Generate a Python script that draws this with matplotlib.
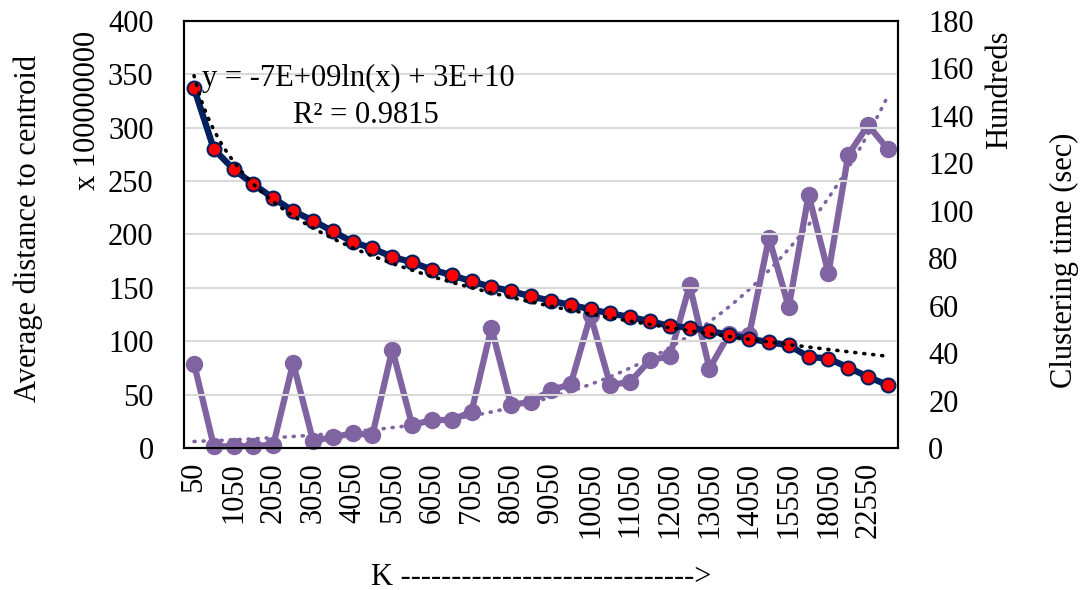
import numpy as np
import matplotlib
matplotlib.use("Agg")
import matplotlib.pyplot as plt

plt.rcParams['font.family'] = ['Liberation Serif', 'DejaVu Serif']

# Number of clusters K
k_values = [50, 550, 1050, 1550, 2050, 2550, 3050, 3550, 4050, 4550,
            5050, 5550, 6050, 6550, 7050, 7550, 8050, 8550, 9050, 9550,
            10050, 10550, 11050, 11550, 12050, 12550, 13050, 13550, 14050,
            14550, 15550, 16550, 18050, 20050, 22550, 25050]

# Average distance to centroid (x 100000000)
avg_distance = [337, 280, 261, 247, 234, 222, 213, 203, 193, 187,
                179, 174, 167, 162, 156, 151, 147, 142, 138, 134,
                130, 126, 122.7, 118.7, 114.3, 112.8, 109.6, 106, 102.5,
                99, 96.3, 85.4, 83.8, 75.4, 66.6, 58.9]

# Clustering time (sec, hundreds)
clustering_time = [35.6, 0.7, 0.7, 0.9, 1.3, 35.9, 3.1, 4.5, 6.2, 5.5,
                   41.5, 9.7, 11.8, 11.8, 15.3, 50.7, 18.1, 19.5, 24.4, 26.9,
                   55.9, 26.5, 27.9, 37.0, 38.7, 68.5, 33.5, 48.2, 47.5,
                   88.6, 59.4, 106.7, 73.7, 123.6, 136.1, 126.0]

NAVY = '#002060'
PURPLE = '#8064A2'

fig = plt.figure(figsize=(10.83, 5.90), dpi=100)
ax = fig.add_axes([0.170, 0.2407, 0.659, 0.7237])
ax2 = ax.twinx()

x = np.arange(len(k_values))
xi = x + 1  # category index used by the trendlines

# Logarithmic trendline for distance
b_log, a_log = np.polyfit(np.log(xi), avg_distance, 1)

# Exponential trendline for clustering time
d_exp, lnc = np.polyfit(xi, np.log(clustering_time), 1)
xs = np.linspace(1, len(k_values), 300)

ax.set_zorder(2)
ax.patch.set_visible(False)

ax.set_ylim(0, 400)
ax.set_yticks(range(0, 401, 50))
ax.yaxis.grid(True, color='#d9d9d9', linewidth=1.5)
ax.set_axisbelow(True)

ax2.set_ylim(0, 180)
ax2.set_yticks(range(0, 181, 20))

# Clustering time (secondary axis)
ax2.plot(x, clustering_time, color=PURPLE, linewidth=4.5, marker='o',
         markersize=11.5, markerfacecolor=PURPLE, markeredgecolor=PURPLE,
         solid_joinstyle='round', zorder=3, clip_on=False)
ax2.plot(xs - 1, np.exp(lnc + d_exp * xs), color=PURPLE, linewidth=2.6,
         linestyle=(0, (0.3, 2.2)), dash_capstyle='round', zorder=2)

# Average distance (primary axis)
ax.plot(x, avg_distance, color=NAVY, linewidth=4.6, marker='o',
        markersize=10, markerfacecolor='#ff0000', markeredgecolor=NAVY,
        markeredgewidth=1.5, solid_joinstyle='round', zorder=3)
ax.plot(xs - 1, a_log + b_log * np.log(xs), color='black', linewidth=2.6,
        linestyle=(0, (0.3, 2.2)), dash_capstyle='round', zorder=4)

ax.set_xlim(-0.5, len(k_values) - 0.5)
ax.set_xticks(x[::2])
ax.set_xticklabels([str(k) for k in k_values[::2]], rotation=90)

for a in (ax, ax2):
    for s in a.spines.values():
        s.set_linewidth(1.5)
        s.set_color('black')
    a.tick_params(length=0, labelsize=22)
ax.tick_params(axis='y', pad=22)
ax2.tick_params(axis='y', pad=22)
ax.tick_params(axis='x', pad=10)

ax.text(0.025, 0.866, 'y = -7E+09ln(x) + 3E+10', transform=ax.transAxes,
        fontsize=22, ha='left', va='center', zorder=6)
ax.text(0.153, 0.778, 'R² = 0.9815', transform=ax.transAxes,
        fontsize=22, ha='left', va='center', zorder=6)

fig.text(0.026, 0.612, 'Average distance to centroid', rotation=90,
         fontsize=22, ha='center', va='center')
fig.text(0.081, 0.812, 'x 100000000', rotation=90,
         fontsize=22, ha='center', va='center')
fig.text(0.923, 0.848, 'Hundreds', rotation=90,
         fontsize=22, ha='center', va='center')
fig.text(0.983, 0.559, 'Clustering time (sec)', rotation=90,
         fontsize=22, ha='center', va='center')
fig.text(0.50, 0.021, 'K ----------------------------->', fontsize=22,
         ha='center', va='center')

fig.savefig('out.png', dpi=100)
